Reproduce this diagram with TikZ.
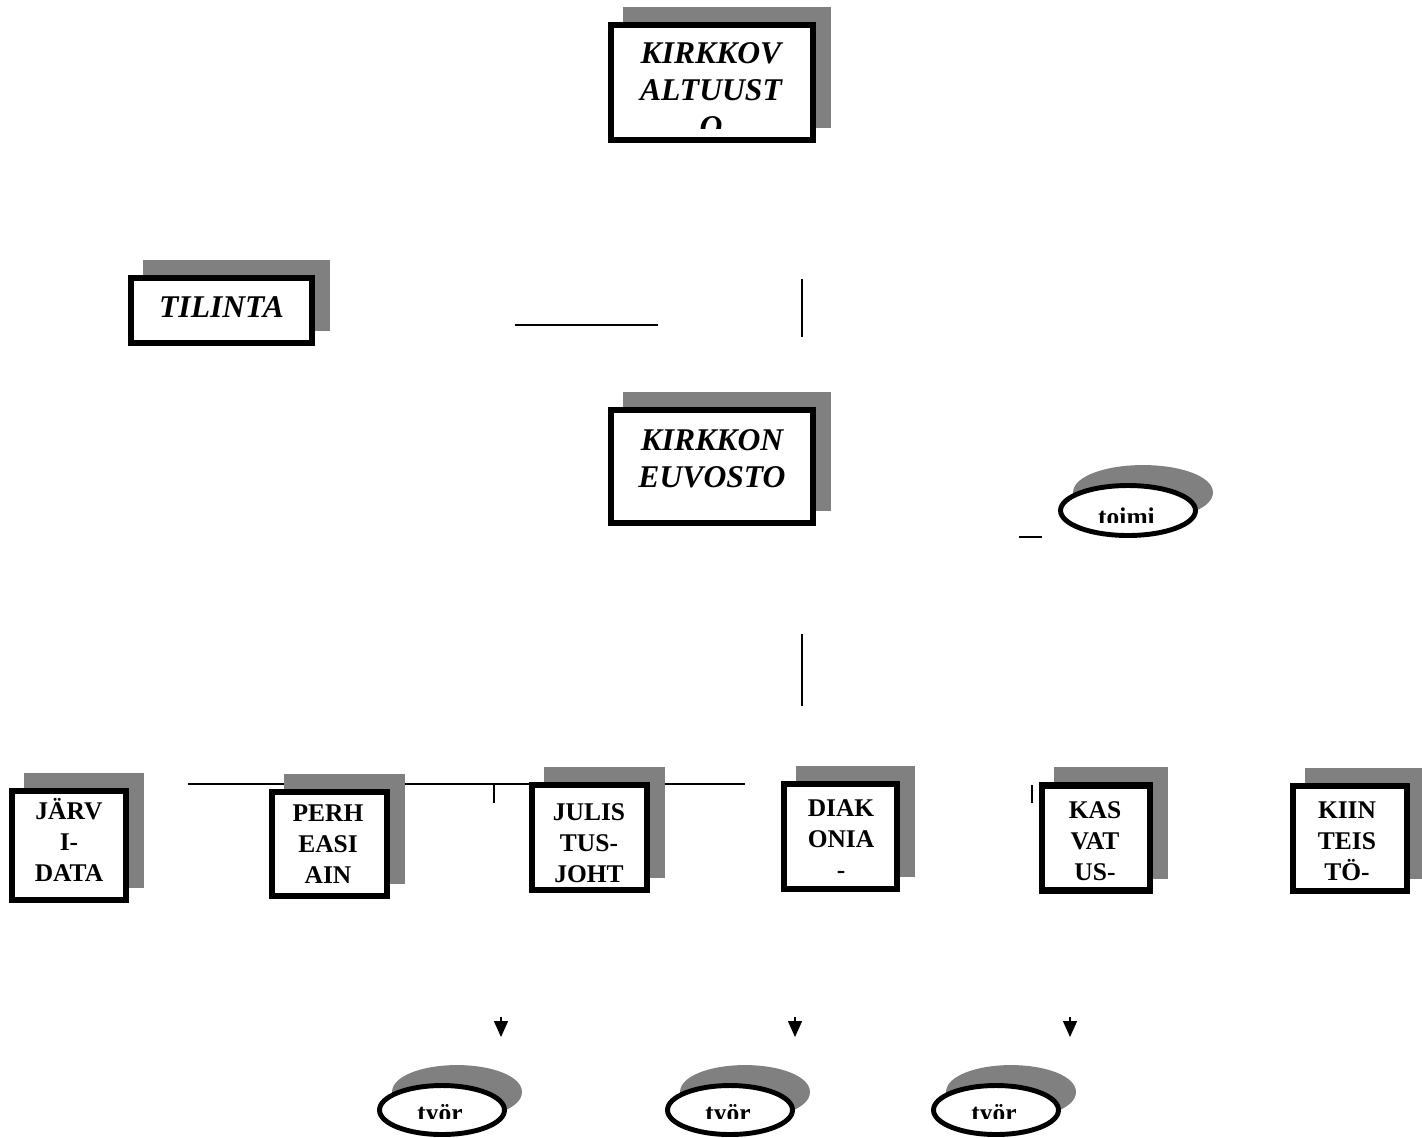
\documentclass[tikz,border=0pt]{standalone}
\usepackage{fontspec}
\setmainfont{Liberation Serif}
\usetikzlibrary{shadows,shapes.geometric,arrows.meta}

\begin{document}
\begin{tikzpicture}
    [ x=0.02cm, y=-0.02cm
    , box/.style={draw, line width=3.6pt, fill=white, inner sep=0pt,
        general shadow={fill=gray, draw=gray, line width=3.6pt, shadow xshift=0.3cm, shadow yshift=0.3cm}}
    , oval/.style={ellipse, draw, line width=2.8pt, fill=white, inner sep=0pt,
        general shadow={fill=gray, draw=gray, line width=2.8pt, shadow xshift=0.3cm, shadow yshift=0.36cm}}
    , toptext/.style={font=\fontsize{18}{21}\selectfont\bfseries\itshape, align=center, anchor=base, inner sep=0pt}
    , unittext/.style={font=\fontsize{14.5}{17.5}\selectfont\bfseries, align=center, anchor=base, inner sep=0pt}
    , ovaltext/.style={font=\fontsize{14.5}{17}\selectfont\bfseries, anchor=base, inner sep=0pt}
    , joint/.style={line width=0.8pt}
    ]
\useasboundingbox (0,0) rectangle (1422,1137);
\clip (0,0) rectangle (1422,1137);

% loose rules
\coordinate (h1a) at (515,325);  \coordinate (h1b) at (658,325);
\coordinate (v1a) at (802,279);  \coordinate (v1b) at (802,337);
\coordinate (v2a) at (802,634);  \coordinate (v2b) at (802,706);
\coordinate (t1a) at (1019,537); \coordinate (t1b) at (1042,537);
\coordinate (rowa) at (188,784); \coordinate (rowb) at (745,784);
\coordinate (k1a) at (494,785);  \coordinate (k1b) at (494,803);
\coordinate (k2a) at (1032,785); \coordinate (k2b) at (1032,803);
\draw[joint] (h1a) -- (h1b);
\draw[joint] (v1a) -- (v1b);
\draw[joint] (v2a) -- (v2b);
\draw[line width=1pt] (t1a) -- (t1b);
\draw[joint] (rowa) -- (rowb);
\draw[joint] (k1a) -- (k1b);
\draw[joint] (k2a) -- (k2b);

% top boxes (base = last line)
\node[box, minimum width=4.04cm, minimum height=2.30cm] (valtuusto) at (712,82.5) {};
\begin{scope}
  \clip (614,28) rectangle (810,128);
  \node[toptext] (valtuustonimi) at (711,137) {KIRKKOV\\ALTUUST\\O};
\end{scope}
\node[box, minimum width=3.62cm, minimum height=1.30cm] (tilinta) at (221.5,310.5) {};
\node[toptext] (tilintanimi) at (221.5,317) {TILINTA};
\node[box, minimum width=4.04cm, minimum height=2.26cm] (neuvosto) at (712,466.5) {};
\node[toptext] (neuvostonimi) at (712,487) {KIRKKON\\EUVOSTO};

\node[oval, minimum width=2.70cm, minimum height=1.00cm] (toimi) at (1128,510.5) {};
\begin{scope}
  \clip (1060,480) rectangle (1196,522);
  \node[ovaltext] (toiminimi) at (1126.5,525) {toimi};
\end{scope}

% unit row
\node[box, minimum width=2.28cm, minimum height=2.18cm] (jarvi) at (69,845.5) {};
\node[unittext] (jarvinimi) at (69,881) {JÄRV\\I-\\DATA};
\node[box, minimum width=2.30cm, minimum height=2.08cm] (perhe) at (329.5,844) {};
\node[unittext] (perhenimi) at (328,883) {PERH\\EASI\\AIN};
\node[box, minimum width=2.30cm, minimum height=2.10cm] (julistus) at (589.5,837.5) {};
\node[unittext] (julistusnimi) at (589,882) {JULIS\\TUS-\\JOHT};
\node[box, minimum width=2.26cm, minimum height=2.10cm] (diakonia) at (840.5,836.5) {};
\node[unittext] (diakonianimi) at (841,878) {DIAK\\ONIA\\-};
\node[box, minimum width=2.16cm, minimum height=2.10cm] (kasvatus) at (1096,838) {};
\node[unittext] (kasvatusnimi) at (1095,880) {KAS\\VAT\\US-};
\node[box, minimum width=2.28cm, minimum height=2.10cm] (kiinteisto) at (1350,838.5) {};
\node[unittext] (kiinteistonimi) at (1347,880) {KIIN\\TEIS\\TÖ-};

% arrow tips above the ovals
\foreach \ax/\an in {501/a, 795/b, 1070/c} {
  \coordinate (nuoli\an) at (\ax,1017);
  \coordinate (karki\an) at (\ax,1037);
  \draw[joint, -{Triangle[length=0.32cm, width=0.28cm]}] (nuoli\an) -- (karki\an);
}

% bottom ovals
\foreach \ox/\on in {442/a, 730/b, 996/c} {
  \node[oval, minimum width=2.50cm, minimum height=0.98cm] (tyo\on) at (\ox,1110) {};
  \begin{scope}
    \clip (\ox-64,1080) rectangle (\ox+64,1118);
    \node[ovaltext] (tyonimi\on) at (\ox-2,1121) {työr};
  \end{scope}
}

\end{tikzpicture}
\end{document}
